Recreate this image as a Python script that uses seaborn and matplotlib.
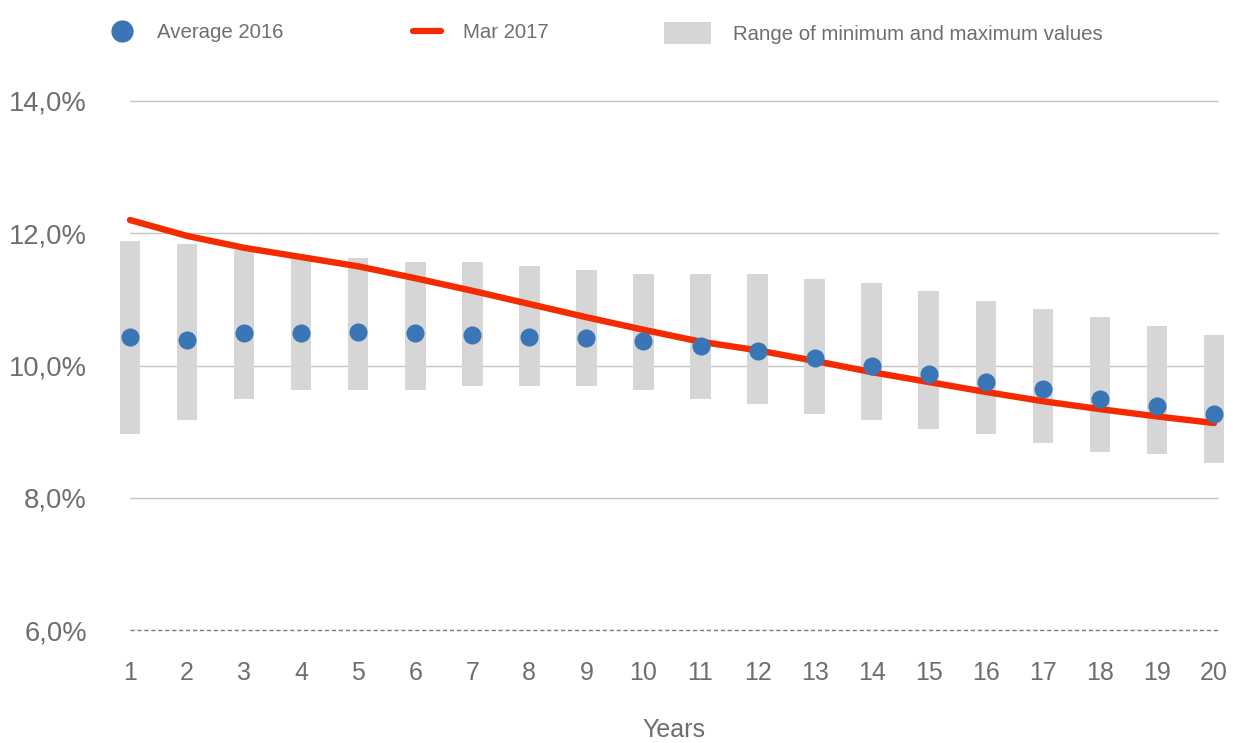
import matplotlib
matplotlib.use("Agg")
import matplotlib.pyplot as plt
from matplotlib import font_manager
from matplotlib.lines import Line2D
from matplotlib.patches import Patch
from matplotlib.ticker import FuncFormatter
import seaborn as sns
import pandas as pd

years = list(range(1, 21))
avg_2016 = [10.43, 10.38, 10.49, 10.49, 10.51, 10.49, 10.46, 10.43, 10.41, 10.37,
            10.29, 10.22, 10.11, 10.00, 9.87, 9.75, 9.64, 9.50, 9.39, 9.26]
mar_2017 = [12.20, 11.96, 11.78, 11.64, 11.50, 11.32, 11.13, 10.93, 10.73, 10.54,
            10.36, 10.23, 10.07, 9.90, 9.75, 9.60, 9.46, 9.34, 9.23, 9.13]
range_min = [8.97, 9.18, 9.49, 9.63, 9.63, 9.63, 9.69, 9.69, 9.69, 9.63,
             9.49, 9.42, 9.27, 9.18, 9.04, 8.97, 8.83, 8.69, 8.66, 8.53]
range_max = [11.89, 11.83, 11.75, 11.67, 11.62, 11.56, 11.56, 11.50, 11.44, 11.39,
             11.39, 11.39, 11.31, 11.25, 11.12, 10.98, 10.86, 10.73, 10.60, 10.46]
y_ticks = [6, 8, 10, 12, 14]
legend_labels = ["Average 2016", "Mar 2017", "Range of minimum and maximum values"]

df = pd.DataFrame({"year": years, "avg": avg_2016, "mar": mar_2017,
                   "lo": range_min, "hi": range_max})

sns.set_theme(style="white")
names = {f.name for f in font_manager.fontManager.ttflist}
narrow = "Liberation Sans Narrow" in names
fam = ["Liberation Sans Narrow" if narrow else "Liberation Sans", "DejaVu Sans"]
plt.rcParams["font.family"] = fam
scale = 1.0 if narrow else 0.82

TXT = "#6e6e6e"
BLUE = "#3a76b5"
RED = "#f42a00"
GREY = "#d6d6d6"

fig = plt.figure(figsize=(12.33, 7.43), dpi=100)
ax = fig.add_axes([130 / 1233, 113 / 743, 1088 / 1233, 529 / 743])

ax.bar(df["year"], df["hi"] - df["lo"], bottom=df["lo"], width=0.36,
       color=GREY, linewidth=0, clip_on=False, zorder=2)
sns.lineplot(data=df, x="year", y="mar", ax=ax, color=RED, linewidth=4.6,
             zorder=3, clip_on=False, legend=False)
sns.scatterplot(data=df, x="year", y="avg", ax=ax, color=BLUE, s=170,
                linewidth=0, zorder=4, clip_on=False, legend=False)

ax.set_xlim(1, 20.07)
ax.set_ylim(6, 14)
ax.grid(False)
for v in y_ticks:
    if v == y_ticks[0]:
        ax.axhline(v, color="#7a7a7a", linewidth=1, linestyle=(0, (3, 2)),
                   zorder=1, clip_on=False)
    else:
        ax.axhline(v, color="#c4c4c4", linewidth=1, zorder=1, clip_on=False)

ax.set_xticks(years)
ax.set_yticks(y_ticks)
ax.yaxis.set_major_formatter(FuncFormatter(lambda v, p: f"{v:.1f}%".replace(".", ",")))
ax.tick_params(axis="x", length=0, pad=22, labelsize=22 * scale, labelcolor=TXT)
ax.tick_params(axis="y", length=0, pad=31, labelsize=24 * scale, labelcolor=TXT)
ax.set_xlabel("Years", fontsize=22 * scale, color=TXT, labelpad=24)
ax.set_ylabel("")
for s in ax.spines.values():
    s.set_visible(False)

lfs = 14.7
common = dict(frameon=False, borderpad=0, borderaxespad=0, fontsize=lfs,
              labelcolor=TXT, loc="center left")
h1 = Line2D([], [], marker="o", color=BLUE, linestyle="none", markersize=15)
h2 = Line2D([], [], color=RED, linewidth=4.5)
h3 = Patch(facecolor=GREY, edgecolor="none")
yl = 1 - 33 / 743
leg1 = fig.legend([h1], [legend_labels[0]], bbox_to_anchor=(108 / 1233, yl),
                  handlelength=1.37, handletextpad=1.05, **common)
leg2 = fig.legend([h2], [legend_labels[1]], bbox_to_anchor=(413 / 1233, yl),
                  handlelength=1.37, handletextpad=1.08, **common)
leg3 = fig.legend([h3], [legend_labels[2]], bbox_to_anchor=(664 / 1233, yl),
                  handlelength=2.3, handleheight=1.27, handletextpad=1.08, **common)

fig.savefig("out.png", dpi=100)
